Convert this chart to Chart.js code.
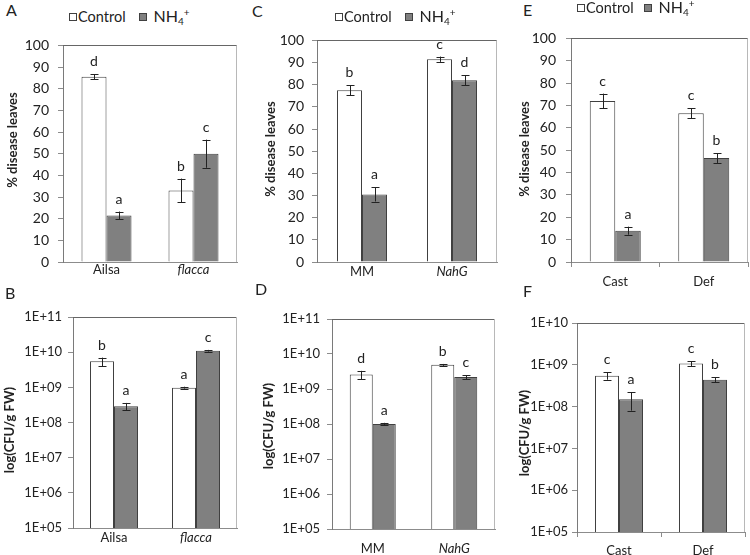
<!DOCTYPE html>
<html><head><meta charset="utf-8">
<script src="https://cdn.jsdelivr.net/npm/chart.js@4/dist/chart.umd.min.js"></script>
<style>
html,body{margin:0;padding:0;background:#fff;}
#wrap{position:relative;width:750px;height:555px;background:#fff;overflow:hidden;font-family:Lato,"Open Sans",sans-serif;color:#222;}
canvas{position:absolute;}
.plet{position:absolute;font-size:16px;line-height:16px;}
.ytitle{position:absolute;font-weight:bold;font-size:13px;white-space:nowrap;transform:translate(-50%,-50%) rotate(-90deg);}
.legend{position:absolute;font-size:14.5px;white-space:nowrap;display:flex;align-items:center;}
.sq{display:inline-block;width:6px;height:6px;border:1px solid #404040;margin-right:1px;}
.nh{font-size:16px;}
.nh sub{font-size:10px;vertical-align:-3px;}
.nh sup{font-size:10px;vertical-align:6px;}
</style>
</head><body>
<div id="wrap">
  <canvas id="cA"></canvas><canvas id="cB"></canvas><canvas id="cC"></canvas>
  <canvas id="cD"></canvas><canvas id="cE"></canvas><canvas id="cF"></canvas>
  <div class="plet" style="left:6px;top:2px">A</div>
  <div class="plet" style="left:5px;top:285px">B</div>
  <div class="plet" style="left:252px;top:3px">C</div>
  <div class="plet" style="left:255px;top:281px">D</div>
  <div class="plet" style="left:523px;top:2px">E</div>
  <div class="plet" style="left:523px;top:283px">F</div>
  <div class="legend" style="left:69px;top:6px"><span class="sq" style="background:#fff"></span>Control<span class="sq" style="background:#808080;margin-left:13px;margin-right:7px"></span><span class="nh">NH<sub>4</sub><sup>+</sup></span></div>
  <div class="legend" style="left:335px;top:6px"><span class="sq" style="background:#fff"></span>Control<span class="sq" style="background:#808080;margin-left:13px;margin-right:7px"></span><span class="nh">NH<sub>4</sub><sup>+</sup></span></div>
  <div class="legend" style="left:577px;top:-3px"><span class="sq" style="background:#fff"></span>Control<span class="sq" style="background:#808080;margin-left:10px;margin-right:7px"></span><span class="nh">NH<sub>4</sub><sup>+</sup></span></div>
  <div class="ytitle" style="left:12px;top:140px">% disease leaves</div>
  <div class="ytitle" style="left:270px;top:149px">% disease leaves</div>
  <div class="ytitle" style="left:524px;top:149px">% disease leaves</div>
  <div class="ytitle" style="left:9px;top:430px">log(CFU/g FW)</div>
  <div class="ytitle" style="left:268px;top:426px">log(CFU/g FW)</div>
  <div class="ytitle" style="left:524px;top:433px">log(CFU/g FW)</div>
</div>
<script>
// ---------- data ----------
const catsA = ['Ailsa', 'flacca'];
const ctrlA = [85.5, 33];   const errCtrlA = [1.2, 5.5];
const nh4A  = [21.5, 50];   const errNh4A  = [1.8, 6.5];
const letCtrlA = ['d', 'b']; const letNh4A = ['a', 'c'];

const catsC = ['MM', 'NahG'];
const ctrlC = [77.5, 91.5]; const errCtrlC = [2.3, 1.2];
const nh4C  = [30.5, 82];   const errNh4C  = [3.2, 2.3];
const letCtrlC = ['b', 'c']; const letNh4C = ['a', 'd'];

const catsE = ['Cast', 'Def'];
const ctrlE = [72, 66.5];   const errCtrlE = [3.3, 2.2];
const nh4E  = [14, 46.5];   const errNh4E  = [1.8, 2.2];
const letCtrlE = ['c', 'c']; const letNh4E = ['a', 'b'];

const catsB = ['Ailsa', 'flacca'];
const ctrlB = [5.5e9, 9.8e8]; const errCtrlB = [1.5e9, 6e7];
const nh4B  = [2.9e8, 1.1e10]; const errNh4B = [7e7, 6e8];
const letCtrlB = ['b', 'a']; const letNh4B = ['a', 'c'];

const catsD = ['MM', 'NahG'];
const ctrlD = [2.6e9, 4.9e9]; const errCtrlD = [7e8, 3e8];
const nh4D  = [1.0e8, 2.2e9]; const errNh4D = [8e6, 3e8];
const letCtrlD = ['d', 'b']; const letNh4D = ['a', 'c'];

const catsF = ['Cast', 'Def'];
const ctrlF = [5.5e8, 1.07e9]; const errCtrlF = [1.1e8, 1.5e8];
const nh4F  = [1.5e8, 4.4e8];  const errNh4F = [7e7, 6e7];
const letCtrlF = ['c', 'c']; const letNh4F = ['a', 'b'];

const linTicks = [0, 10, 20, 30, 40, 50, 60, 70, 80, 90, 100];
const logTicks11 = [1e5, 1e6, 1e7, 1e8, 1e9, 1e10, 1e11];
const logTicks10 = [1e5, 1e6, 1e7, 1e8, 1e9, 1e10];
const italicCats = ['flacca', 'NahG'];
const seriesNames = ['Control', 'NH4+'];

const FONT = 'Lato, "Open Sans", sans-serif';

// ---------- plugins ----------
const errPlugin = {
  id: 'errbars',
  afterDatasetsDraw(chart) {
    const ctx = chart.ctx, ys = chart.scales.y;
    ctx.save();
    chart.data.datasets.forEach((ds, di) => {
      const meta = chart.getDatasetMeta(di);
      meta.data.forEach((bar, i) => {
        const v = ds.data[i], e = ds.err[i];
        const yt = ys.getPixelForValue(v + e), yb = ys.getPixelForValue(v - e);
        const x = Math.round(bar.x) + 0.5;
        ctx.strokeStyle = '#222'; ctx.lineWidth = 1;
        ctx.beginPath();
        ctx.moveTo(x, yt); ctx.lineTo(x, yb);
        ctx.moveTo(x - 4, Math.round(yt) + 0.5); ctx.lineTo(x + 4, Math.round(yt) + 0.5);
        ctx.moveTo(x - 4, Math.round(yb) + 0.5); ctx.lineTo(x + 4, Math.round(yb) + 0.5);
        ctx.stroke();
        ctx.fillStyle = '#222';
        ctx.font = '14px ' + FONT;
        ctx.textAlign = 'center'; ctx.textBaseline = 'alphabetic';
        ctx.fillText(ds.letters[i], bar.x, yt - 8);
      });
    });
    ctx.restore();
  }
};
const framePlugin = {
  id: 'frame',
  beforeDatasetsDraw(chart) {
    const {ctx, chartArea: a} = chart;
    ctx.save(); ctx.lineWidth = 1;
    ctx.strokeStyle = '#666';
    ctx.beginPath(); ctx.moveTo(a.left, Math.round(a.top) + 0.5); ctx.lineTo(a.right, Math.round(a.top) + 0.5); ctx.stroke();
    ctx.strokeStyle = '#b8b8b8';
    ctx.beginPath(); ctx.moveTo(Math.round(a.right) - 0.5, a.top); ctx.lineTo(Math.round(a.right) - 0.5, a.bottom); ctx.stroke();
    ctx.restore();
  }
};

function fmtLog(v) {
  const p = Math.round(Math.log10(v));
  return '1E+' + String(p).padStart(2, '0');
}

function makePanel(id, p) {
  const cv = document.getElementById(id);
  cv.style.left = p.box.x + 'px'; cv.style.top = p.box.y + 'px';
  cv.style.width = p.box.w + 'px'; cv.style.height = p.box.h + 'px';
  cv.width = p.box.w; cv.height = p.box.h;
  const yw = p.plot.l - p.box.x, xh = p.box.y + p.box.h - p.plot.b;
  const catW = (p.plot.r - p.plot.l) / p.cats.length;
  const isLog = p.yType === 'logarithmic';
  new Chart(cv, {
    type: 'bar',
    data: {
      labels: p.cats,
      datasets: [
        {label: seriesNames[0], data: p.ctrl, err: p.errC, letters: p.letC,
         backgroundColor: '#ffffff', borderColor: '#404040', borderWidth: 1},
        {label: seriesNames[1], data: p.nh4, err: p.errN, letters: p.letN,
         backgroundColor: '#808080', borderColor: '#404040', borderWidth: 1}
      ]
    },
    options: {
      responsive: false, animation: false, devicePixelRatio: 1,
      layout: {padding: {left: 0, top: p.plot.t - p.box.y, right: p.box.x + p.box.w - p.plot.r, bottom: 0}},
      plugins: {legend: {display: false}, tooltip: {enabled: false}},
      datasets: {bar: {categoryPercentage: 2 * p.barW / catW, barPercentage: 1, borderSkipped: 'bottom'}},
      scales: {
        x: {
          type: 'category', offset: true,
          grid: {display: p.xTicks, offset: true, drawOnChartArea: false, drawTicks: p.xTicks, tickLength: 5, color: '#8c8c8c'},
          border: {display: true, color: '#8c8c8c'},
          ticks: {padding: p.xPad, color: '#222',
            font: (c) => ({family: FONT, size: 13,
              style: (c.tick && italicCats.includes(p.cats[c.tick.value])) ? 'italic' : 'normal'})},
          afterFit: (s) => { s.height = xh; }
        },
        y: {
          type: p.yType, min: p.yMin, max: p.yMax,
          grid: {display: true, drawOnChartArea: false, drawTicks: true, tickLength: 5, color: '#8c8c8c'},
          border: {display: true, color: '#7a7a7a'},
          ticks: {padding: p.yPad, color: '#222', autoSkip: false,
            font: {family: FONT, size: p.yFont},
            callback: (v) => isLog ? fmtLog(v) : String(v)},
          afterBuildTicks: (s) => { s.ticks = p.yTicks.map(v => ({value: v})); },
          afterFit: (s) => { s.width = yw; }
        }
      }
    },
    plugins: [framePlugin, errPlugin]
  });
}

makePanel('cA', {box: {x: 0, y: 28, w: 245, h: 262}, plot: {l: 63, t: 44, r: 237, b: 262},
  cats: catsA, ctrl: ctrlA, nh4: nh4A, errC: errCtrlA, errN: errNh4A, letC: letCtrlA, letN: letNh4A,
  yType: 'linear', yMin: 0, yMax: 100, yTicks: linTicks, barW: 25, xTicks: false, xPad: 0, yPad: 9, yFont: 14});
makePanel('cC', {box: {x: 250, y: 24, w: 250, h: 266}, plot: {l: 317, t: 39, r: 497, b: 262},
  cats: catsC, ctrl: ctrlC, nh4: nh4C, errC: errCtrlC, errN: errNh4C, letC: letCtrlC, letN: letNh4C,
  yType: 'linear', yMin: 0, yMax: 100, yTicks: linTicks, barW: 25, xTicks: false, xPad: 2, yPad: 8, yFont: 14});
makePanel('cE', {box: {x: 500, y: 20, w: 250, h: 275}, plot: {l: 571, t: 36, r: 748, b: 262},
  cats: catsE, ctrl: ctrlE, nh4: nh4E, errC: errCtrlE, errN: errNh4E, letC: letCtrlE, letN: letNh4E,
  yType: 'linear', yMin: 0, yMax: 100, yTicks: linTicks, barW: 25.5, xTicks: true, xPad: 7, yPad: 10, yFont: 14});
makePanel('cB', {box: {x: 0, y: 298, w: 245, h: 257}, plot: {l: 73, t: 317, r: 237, b: 528},
  cats: catsB, ctrl: ctrlB, nh4: nh4B, errC: errCtrlB, errN: errNh4B, letC: letCtrlB, letN: letNh4B,
  yType: 'logarithmic', yMin: 1e5, yMax: 1e11, yTicks: logTicks11, barW: 24, xTicks: false, xPad: 2, yPad: 6, yFont: 13});
makePanel('cD', {box: {x: 250, y: 298, w: 250, h: 257}, plot: {l: 332, t: 319, r: 495, b: 529},
  cats: catsD, ctrl: ctrlD, nh4: nh4D, errC: errCtrlD, errN: errNh4D, letC: letCtrlD, letN: letNh4D,
  yType: 'logarithmic', yMin: 1e5, yMax: 1e11, yTicks: logTicks11, barW: 23, xTicks: false, xPad: 12, yPad: 7, yFont: 13});
makePanel('cF', {box: {x: 500, y: 298, w: 250, h: 257}, plot: {l: 577, t: 323, r: 745, b: 532},
  cats: catsF, ctrl: ctrlF, nh4: nh4F, errC: errCtrlF, errN: errNh4F, letC: letCtrlF, letN: letNh4F,
  yType: 'logarithmic', yMin: 1e5, yMax: 1e10, yTicks: logTicks10, barW: 24, xTicks: true, xPad: 6, yPad: 4, yFont: 13});
</script>
</body></html>
